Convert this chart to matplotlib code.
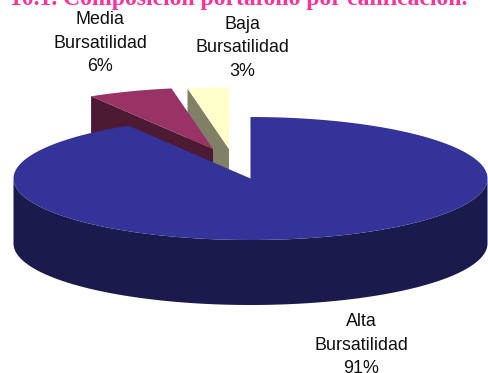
import numpy as np
import matplotlib
matplotlib.use("Agg")
import matplotlib.pyplot as plt

TITLE = "10.1. Composición portafolio por calificación."
categories = ["Alta\nBursatilidad\n91%", "Media\nBursatilidad\n6%", "Baja\nBursatilidad\n3%"]
shares = [91.4, 5.8, 2.8]
top_colors = ["#333399", "#993366", "#FFFFCC"]
wall_colors = ["#1A1A4D", "#4D1A33", "#808066"]
offsets = [(0, 0), (-37.5, -29.5), (-21.5, -29.5)]
label_pos = [(361, 345), (100, 43), (242, 48)]

CX, CY = 250.5, 178.5
A, B = 237, 61.5
DEPTH = 65


def rim(t, dx=0, dy=0):
    t = np.radians(t)
    return CX + dx + A * np.sin(t), CY + dy - B * np.cos(t)


def draw_slice(ax, start, end, top, wall, dx, dy, order):
    t = np.linspace(start, end, 300)
    x, y = rim(t, dx, dy)
    # radial edge on the left shows as a flat wall, only for the exploded slices
    if dx or dy:
        ex, ey = rim(start, dx, dy)
        ax.fill([ex, CX + dx, CX + dx, ex], [ey, CY + dy, CY + dy + DEPTH, ey + DEPTH],
                color=wall, lw=0, zorder=order)
    else:
        tw = np.linspace(90, 270, 300)
        wx, wy = rim(tw)
        ax.fill(np.r_[wx, wx[::-1]], np.r_[wy, wy[::-1] + DEPTH], color=wall, lw=0, zorder=order)
    ax.fill(np.r_[CX + dx, x], np.r_[CY + dy, y], color=top, lw=0, zorder=order + 0.5)


fig = plt.figure(figsize=(4.89, 3.73), dpi=100)
ax = fig.add_axes([0, 0, 1, 1])
ax.set_xlim(0, 489)
ax.set_ylim(373, 0)
ax.axis("off")

edges = np.cumsum([0] + shares) / sum(shares) * 360
for i in [2, 1, 0]:
    dx, dy = offsets[i]
    draw_slice(ax, edges[i], edges[i + 1], top_colors[i], wall_colors[i], dx, dy, 3 - i)
    ax.text(label_pos[i][0], label_pos[i][1], categories[i], ha="center", va="center",
            family="Liberation Sans", fontsize=12.9, color="#111111", linespacing=1.5, zorder=10)

ax.text(238.5, 5, TITLE, ha="center", va="baseline", family="Liberation Serif", weight="bold",
        fontsize=17, color="#FF3399", zorder=10)

fig.savefig("out.png", dpi=100)
